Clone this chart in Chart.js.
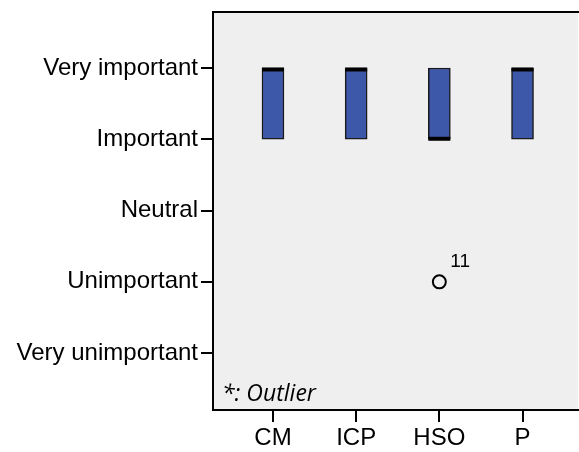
<!DOCTYPE html>
<html>
<head>
<meta charset="utf-8">
<script src="https://cdn.jsdelivr.net/npm/chart.js@4/dist/chart.umd.min.js"></script>
<style>
html,body{margin:0;padding:0;background:#fff;}
#wrap{width:579px;height:452px;}
</style>
</head>
<body>
<div id="wrap"><canvas id="c" width="579" height="452"></canvas></div>
<script>
const categories = ["CM", "ICP", "HSO", "P"];
const q1 = [4, 4, 4, 4];
const q3 = [5, 5, 5, 5];
const medians = [5, 5, 4, 5];
const outlierCategory = ["HSO"];
const outlierValue = [2];
const outlierLabel = ["11"];
const levelLabels = ["Very unimportant", "Unimportant", "Neutral", "Important", "Very important"];
const levelValues = [1, 2, 3, 4, 5];

const boxData = categories.map((c, i) => ({x: i + 1, y: [q1[i], q3[i]]}));
const outData = outlierCategory.map((c, i) => ({x: categories.indexOf(c) + 1, y: outlierValue[i]}));

const frame = {
  id: 'frame',
  beforeDraw(chart) {
    const {ctx, chartArea: a} = chart;
    ctx.save();
    ctx.fillStyle = '#efefef';
    ctx.fillRect(a.left, a.top, a.right - a.left, a.bottom - a.top);
    ctx.restore();
  },
  afterDraw(chart) {
    const {ctx, chartArea: a, scales} = chart;
    ctx.save();
    ctx.strokeStyle = '#000';
    ctx.lineWidth = 2;
    ctx.beginPath();
    ctx.moveTo(a.right + 2, a.top);
    ctx.lineTo(a.left, a.top);
    ctx.lineTo(a.left, a.bottom);
    ctx.lineTo(a.right + 2, a.bottom);
    ctx.stroke();
    // medians
    ctx.lineWidth = 4;
    medians.forEach((m, i) => {
      const xc = scales.x.getPixelForValue(i + 1);
      let y = scales.y.getPixelForValue(m);
      if (m === q3[i]) y += 1.5; else if (m === q1[i]) y -= 0.5;
      ctx.beginPath();
      ctx.moveTo(xc - 11, y);
      ctx.lineTo(xc + 11, y);
      ctx.stroke();
    });
    // outlier labels
    ctx.fillStyle = '#000';
    ctx.font = '19px "Liberation Sans", Arial, sans-serif';
    ctx.textBaseline = 'middle';
    ctx.textAlign = 'left';
    outData.forEach((p, i) => {
      const px = scales.x.getPixelForValue(p.x);
      const py = scales.y.getPixelForValue(p.y);
      ctx.fillText(outlierLabel[i], px + 11, py - 20);
    });
    // note
    ctx.font = 'italic 23px "Open Sans", sans-serif';
    ctx.textBaseline = 'alphabetic';
    ctx.fillText('*: Outlier', a.left + 9, a.bottom - 9);
    ctx.restore();
  }
};

new Chart(document.getElementById('c'), {
  data: {
    datasets: [
      {
        type: 'bar',
        data: boxData,
        backgroundColor: '#3d57a9',
        borderColor: '#1a1a1a',
        borderWidth: 1.5,
        borderSkipped: false,
        barThickness: 22,
        grouped: false
      },
      {
        type: 'scatter',
        data: outData,
        pointStyle: 'circle',
        pointRadius: 6.5,
        pointBorderWidth: 2,
        pointBackgroundColor: 'rgba(0,0,0,0)',
        pointBorderColor: '#000'
      }
    ]
  },
  options: {
    responsive: false,
    animation: false,
    devicePixelRatio: 1,
    layout: {autoPadding: false, padding: {left: 0, top: 12, right: 1, bottom: 0}},
    plugins: {legend: {display: false}, tooltip: {enabled: false}},
    scales: {
      x: {
        type: 'linear',
        offset: false,
        min: 0.279,
        max: 4.667,
        afterBuildTicks(s) { s.ticks = categories.map((c, i) => ({value: i + 1})); },
        afterFit(s) { s.height = 42; s.paddingLeft = 0; s.paddingRight = 0; },
        ticks: {
          autoSkip: false,
          maxRotation: 0,
          padding: 2,
          color: '#000',
          font: {family: '"Liberation Sans", Arial, sans-serif', size: 24},
          callback: (v) => categories[v - 1]
        },
        grid: {offset: false, drawOnChartArea: false, drawTicks: true, tickLength: 12, color: '#000', lineWidth: 2},
        border: {display: false}
      },
      y: {
        type: 'linear',
        min: 0.203,
        max: 5.785,
        afterBuildTicks(s) { s.ticks = levelValues.map(v => ({value: v})); },
        afterFit(s) { s.width = 213; s.paddingTop = 0; s.paddingBottom = 0; },
        ticks: {
          autoSkip: false,
          padding: 3,
          color: '#000',
          font: {family: '"Liberation Sans", Arial, sans-serif', size: 24},
          callback: (v) => levelLabels[levelValues.indexOf(v)]
        },
        grid: {drawOnChartArea: false, drawTicks: true, tickLength: 12, color: '#000', lineWidth: 2},
        border: {display: false}
      }
    }
  },
  plugins: [frame]
});
</script>
</body>
</html>
